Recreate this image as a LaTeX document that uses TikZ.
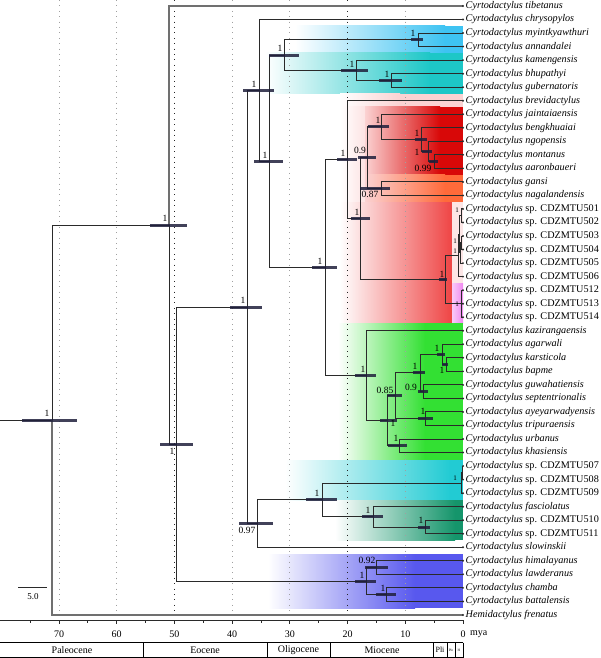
\documentclass[tikz,border=0pt]{standalone}
\usepackage{fontspec}
\setmainfont{Liberation Serif}
\usetikzlibrary{calc}
\definecolor{brc}{HTML}{2A2A2A}
\definecolor{brgray}{HTML}{707070}
\definecolor{hpdc}{HTML}{20203C}
\definecolor{skyb}{HTML}{3EC3F2}
\definecolor{tealc}{HTML}{1DC7C7}
\definecolor{pinkbg}{HTML}{FBD2D2}
\definecolor{redc}{HTML}{D80808}
\definecolor{orangec}{HTML}{FF6A3A}
\definecolor{cdzred}{HTML}{EF4848}
\definecolor{magc}{HTML}{F088F0}
\definecolor{palec}{HTML}{FDE6E6}
\definecolor{greenc}{HTML}{33E033}
\definecolor{cyanc}{HTML}{22CBD3}
\definecolor{dgreenc}{HTML}{15956B}
\definecolor{bluec}{HTML}{5858EE}
\definecolor{gridc}{HTML}{A0A0A0}
\newcommand{\gradbox}[7]{%
  \shade[left color=#7,right color=#6] (#1,#4) rectangle (#2,#5);
  \fill[#6] ({#2-0.4},#4) rectangle (#3,#5);}
\begin{document}
\begin{tikzpicture}[x=1pt,y=-1pt,
  br/.style={draw=brc,line width=1pt},
  brg/.style={draw=brgray,line width=1.6pt},
  hpd/.style={draw=hpdc,line width=3pt,opacity=0.85},
  sup/.style={font=\fontsize{9.5}{10}\selectfont,inner sep=0pt},
  tinysup/.style={font=\fontsize{7}{8}\selectfont,inner sep=0pt},
  tiplab/.style={anchor=west,inner sep=2.5pt,font=\fontsize{10.2}{12}\selectfont},
  gridl/.style={draw=gridc,line width=0.9pt,dash pattern=on 0.9pt off 4.5pt},
  gridd/.style={draw=black!85,line width=0.9pt,dash pattern=on 0.9pt off 4.5pt},
  axlab/.style={font=\fontsize{10}{11}\selectfont,inner sep=0pt},
  eplab/.style={font=\fontsize{10}{11}\selectfont,inner sep=0pt}]
\useasboundingbox (0,0) rectangle (600,658);
\fill[white] (0,0) rectangle (600,658);

% ---- clade highlights
\gradbox{295}{445}{463}{26}{53}{skyb}{white}
\gradbox{265}{430}{463}{53}{94}{tealc}{white}
\gradbox{340}{400}{463}{94}{107}{pinkbg}{white}
\gradbox{340}{380}{365}{107}{202}{pinkbg}{white}
\gradbox{365}{440}{463}{107}{174.5}{redc}{pinkbg}
\gradbox{365}{445}{463}{174.5}{202}{orangec}{pinkbg}
\gradbox{340}{450}{452}{202}{323}{cdzred}{white}
\fill[palec] (452,202) rectangle (463,283);
\shade[left color=magc!45,right color=magc] (452,283) rectangle (463,323);
\gradbox{338}{425}{463}{323}{460}{greenc}{white}
\gradbox{285}{450}{463}{460}{500}{cyanc}{white}
\gradbox{335}{455}{463}{500}{540}{dgreenc}{white}
\gradbox{268}{415}{463}{554}{608}{bluec}{white}

% ---- time grid
\foreach \a in {70,60,40,30,10}
  \draw[gridl] ({463-5.771*\a},0) -- ({463-5.771*\a},612);
\foreach \a in {50,20}
  \draw[gridd] ({463-5.771*\a},0) -- ({463-5.771*\a},612);

% ---- tips
\foreach \i in {1,...,46}
  \coordinate (c\i) at (463,{6+(\i-1)*13.532});

% ---- internal nodes
\coordinate (rootstem) at (0,420.0);
\coordinate (root) at (52,420.0);
\coordinate (ing) at (169,225.05);
\coordinate (nA) at (176,444.1);
\coordinate (nB) at (247,307.05);
\coordinate (nC) at (259,90.5);
\coordinate (nF) at (269,161.4);
\coordinate (nE) at (284,55.1);
\coordinate (nMy) at (418,39.83);
\coordinate (nKa) at (356,70.3);
\coordinate (nBh) at (391,80.43);
\coordinate (nG) at (325,267.7);
\coordinate (nH) at (347,159.7);
\coordinate (nI) at (360,218.7);
\coordinate (nJ) at (367,157.8);
\coordinate (nK) at (381,126.9);
\coordinate (nM) at (421,139.6);
\coordinate (nN) at (428,151.5);
\coordinate (nO) at (434,161.6);
\coordinate (nL) at (381,188.7);
\coordinate (nCD) at (445,279.6);
\coordinate (nP5) at (458,255.5);
\coordinate (nP4) at (459.5,234.3);
\coordinate (nP1) at (461.5,215.7);
\coordinate (nP3) at (460.5,252.9);
\coordinate (nP2) at (461.5,242.8);
\coordinate (nQ) at (461,303.7);
\coordinate (nGr) at (366,375.8);
\coordinate (nGa) at (387,420.8);
\coordinate (n085) at (395,395.8);
\coordinate (nAg1) at (420,372.9);
\coordinate (nAg) at (442,354.3);
\coordinate (nKb) at (446,364.6);
\coordinate (nGu) at (423,391.7);
\coordinate (nAy) at (425,418.7);
\coordinate (nUK) at (399,445.8);
\coordinate (n097) at (257,523.6);
\coordinate (nR) at (322,499.9);
\coordinate (n507) at (461,483.0);
\coordinate (n507a) at (462,472.9);
\coordinate (nS) at (373,516.9);
\coordinate (n510) at (425,527.0);
\coordinate (nHim) at (366,581.1);
\coordinate (nT) at (376,567.6);
\coordinate (nU) at (386,594.6);

% ---- branches
\draw[br] (rootstem) -- (root);
\draw[br] (root) |- (ing);
\draw[brg] (root) |- (c46);
\draw[brg] (ing) |- (c1);
\draw[br] (ing) |- (nA);
\draw[br] (nA) |- (nB);
\draw[br] (nA) |- (nHim);
\draw[br] (nB) |- (nC);
\draw[br] (nB) |- (n097);
\draw[br] (nC) |- (c2);
\draw[br] (nC) |- (nF);
\draw[br] (nF) |- (nE);
\draw[br] (nF) |- (nG);
\draw[br] (nE) |- (nMy);
\draw[br] (nE) |- (nKa);
\draw[br] (nMy) |- (c3);
\draw[br] (nMy) |- (c4);
\draw[br] (nKa) |- (c5);
\draw[br] (nKa) |- (nBh);
\draw[br] (nBh) |- (c6);
\draw[br] (nBh) |- (c7);
\draw[br] (nG) |- (nH);
\draw[br] (nG) |- (nGr);
\draw[br] (nH) |- (c8);
\draw[br] (nH) |- (nI);
\draw[br] (nI) |- (nJ);
\draw[br] (nI) |- (nCD);
\draw[br] (nJ) |- (nK);
\draw[br] (nJ) |- (nL);
\draw[br] (nK) |- (c9);
\draw[br] (nK) |- (nM);
\draw[br] (nM) |- (c10);
\draw[br] (nM) |- (nN);
\draw[br] (nN) |- (c11);
\draw[br] (nN) |- (nO);
\draw[br] (nO) |- (c12);
\draw[br] (nO) |- (c13);
\draw[br] (nL) |- (c14);
\draw[br] (nL) |- (c15);
\draw[br] (nCD) |- (nP5);
\draw[br] (nCD) |- (nQ);
\draw[br] (nP5) |- (nP4);
\draw[br] (nP5) |- (c21);
\draw[br] (nP4) |- (nP1);
\draw[br] (nP4) |- (nP3);
\draw[br] (nP1) |- (c16);
\draw[br] (nP1) |- (c17);
\draw[br] (nP3) |- (nP2);
\draw[br] (nP3) |- (c20);
\draw[br] (nP2) |- (c18);
\draw[br] (nP2) |- (c19);
\draw[br] (nQ) |- (c22);
\draw[br] (nQ) |- (c23);
\draw[br] (nQ) |- (c24);
\draw[br] (nGr) |- (c25);
\draw[br] (nGr) |- (nGa);
\draw[br] (nGa) |- (n085);
\draw[br] (nGa) |- (nUK);
\draw[br] (n085) |- (nAg1);
\draw[br] (n085) |- (nAy);
\draw[br] (nAg1) |- (nAg);
\draw[br] (nAg1) |- (nGu);
\draw[br] (nAg) |- (c26);
\draw[br] (nAg) |- (nKb);
\draw[br] (nKb) |- (c27);
\draw[br] (nKb) |- (c28);
\draw[br] (nGu) |- (c29);
\draw[br] (nGu) |- (c30);
\draw[br] (nAy) |- (c31);
\draw[br] (nAy) |- (c32);
\draw[br] (nUK) |- (c33);
\draw[br] (nUK) |- (c34);
\draw[br] (n097) |- (nR);
\draw[br] (n097) |- (c41);
\draw[br] (nR) |- (n507);
\draw[br] (nR) |- (nS);
\draw[br] (n507) |- (n507a);
\draw[br] (n507) |- (c37);
\draw[br] (n507a) |- (c35);
\draw[br] (n507a) |- (c36);
\draw[br] (nS) |- (c38);
\draw[br] (nS) |- (n510);
\draw[br] (n510) |- (c39);
\draw[br] (n510) |- (c40);
\draw[br] (nHim) |- (nT);
\draw[br] (nHim) |- (nU);
\draw[br] (nT) |- (c42);
\draw[br] (nT) |- (c43);
\draw[br] (nU) |- (c44);
\draw[br] (nU) |- (c45);
\foreach \i in {1,...,46} \fill[brc] (c\i) circle (1.1);

% ---- HPD bars
\foreach \n/\a/\b in {root/22/77, ing/150/187, nA/160/193, nB/230/262, nC/243/274,
  nF/254/283, nE/269/299, nMy/411/423, nKa/341/368, nBh/379/402, nG/312/337,
  nH/337/357, nJ/358/376, nK/368/389, nM/415/427, nN/422/432, nO/429/438,
  nL/360/390, nI/351/370, nCD/439/447, nGr/355/376, n085/387/402, nAg1/413/425,
  nAg/437/445, nKb/442/448, nGu/418/428, nAy/418/433, nGa/380/397, nUK/388/407,
  n097/239/273, nR/306/337, nS/362/383, n510/418/430, nHim/355/376, nT/365/388,
  nU/376/396}
  \draw[hpd] (\a,0 |- \n) -- (\b,0 |- \n);

% ---- support values
\node[sup] (s1) at (47,413) {1};
\node[sup] (s2) at (165,218) {1};
\node[sup] (s3) at (172,451) {1};
\node[sup] (s4) at (243,300) {1};
\node[sup] (s5) at (254,84) {1};
\node[sup] (s6) at (265,155) {1};
\node[sup] (s7) at (280,48) {1};
\node[sup] (s8) at (413,33) {1};
\node[sup] (s9) at (352,64) {1};
\node[sup] (s10) at (387,74) {1};
\node[sup] (s11) at (320,261) {1};
\node[sup] (s12) at (343,153) {1};
\node[sup] (s13) at (360,150) {0.9};
\node[sup] (s14) at (378,120) {1};
\node[sup] (s15) at (417,133) {1};
\node[sup] (s16) at (417,152) {1};
\node[sup] (s17) at (423,168) {0.99};
\node[sup] (s18) at (370,194) {0.87};
\node[sup] (s19) at (357,212) {1};
\node[sup] (s20) at (442,274) {1};
\node[tinysup] (s21) at (457,210) {1};
\node[tinysup] (s22) at (455,241) {1};
\node[tinysup] (s23) at (455,251) {1};
\node[tinysup] (s24) at (457,304) {1};
\node[sup] (s25) at (363,369) {1};
\node[sup] (s26) at (385,390) {0.85};
\node[sup] (s27) at (415,366) {1};
\node[sup] (s28) at (437,348) {1};
\node[sup] (s29) at (442,370) {1};
\node[sup] (s30) at (411,387) {0.9};
\node[sup] (s31) at (423,411) {1};
\node[sup] (s32) at (393,423) {1};
\node[sup] (s33) at (396,438) {1};
\node[sup] (s34) at (247,530) {0.97};
\node[sup] (s35) at (317,493) {1};
\node[tinysup] (s36) at (455,478) {1};
\node[sup] (s37) at (368,510) {1};
\node[sup] (s38) at (421,520) {1};
\node[sup] (s39) at (362,575) {1};
\node[sup] (s40) at (367,560) {0.92};
\node[sup] (s41) at (383,588) {1};

% ---- tip labels
\foreach \i/\nm in {1/tibetanus, 2/chrysopylos, 3/myintkyawthuri, 4/annandalei,
  5/kamengensis, 6/bhupathyi, 7/gubernatoris, 8/brevidactylus, 9/jaintaiaensis,
  10/bengkhuaiai, 11/ngopensis, 12/montanus, 13/aaronbaueri, 14/gansi,
  15/nagalandensis, 25/kazirangaensis, 26/agarwali, 27/karsticola, 28/bapme,
  29/guwahatiensis, 30/septentrionalis, 31/ayeyarwadyensis, 32/tripuraensis,
  33/urbanus, 34/khasiensis, 38/fasciolatus, 41/slowinskii, 42/himalayanus,
  43/lawderanus, 44/chamba, 45/battalensis}
  \node[tiplab] (t\i) at (c\i) {\textit{Cyrtodactylus \nm}};
\foreach \i/\nm in {16/501, 17/502, 18/503, 19/504, 20/505, 21/506, 22/512,
  23/513, 24/514, 35/507, 36/508, 37/509, 39/510, 40/511}
  \node[tiplab] (t\i) at (c\i) {\textit{Cyrtodactylus} sp. CDZMTU\nm};
\node[tiplab] (t46) at (c46) {\textit{Hemidactylus frenatus}};

% ---- scale bar
\coordinate (sb1) at (18,587);
\coordinate (sb2) at (47,587);
\draw[line width=0.8pt,brc] (sb1) -- (sb2);
\node[axlab,font=\fontsize{9}{10}\selectfont] (sbl) at (33,597) {5.0};

% ---- time axis
\coordinate (ax0) at (0,620);
\coordinate (ax1) at (463,620);
\draw[line width=0.9pt,brc] (ax0) -- (ax1);
\foreach \a in {0,10,...,70} {
  \draw[line width=0.8pt,brc] ({463-5.771*\a},620) -- ({463-5.771*\a},624);
  \node[axlab] (ax\a) at ({463-5.771*\a},634) {\a};
}
\foreach \a in {5,15,...,75}
  \draw[line width=0.8pt,brc] ({463-5.771*\a},620) -- ({463-5.771*\a},623);
\node[axlab,anchor=west] (mya) at (470,634) {mya};

% ---- epochs
\draw[line width=0.8pt,black] (0,642.5) -- (463,642.5);
\draw[line width=0.8pt,black] (0,657.5) -- (463,657.5);
\foreach \x in {143,267,330,433,447,455,463}
  \draw[line width=0.8pt,black] (\x,642.5) -- (\x,657.5);
\node[eplab] (e1) at (72,650) {Paleocene};
\node[eplab] (e2) at (205,650) {Eocene};
\node[eplab] (e3) at (298.5,650) {Oligocene};
\node[eplab] (e4) at (382,650) {Miocene};
\node[eplab,font=\fontsize{8}{9}\selectfont] (e5) at (440,650) {Pli};
\node[eplab,font=\fontsize{3.5}{4}\selectfont] (e6) at (451,650) {Ple};
\node[eplab,font=\fontsize{3.5}{4}\selectfont] (e7) at (459,650) {H};
\end{tikzpicture}
\end{document}
